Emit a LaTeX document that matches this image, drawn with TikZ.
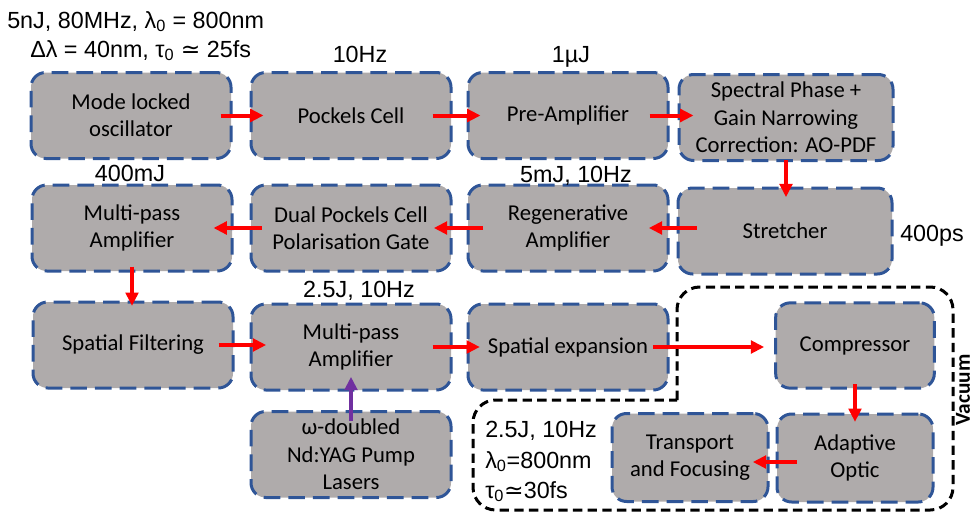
\documentclass[tikz,border=0pt]{standalone}
\usepackage{fontspec}
\setmainfont{Carlito}
\newfontfamily\arialfont{Liberation Sans}
\newfontfamily\symfont{DejaVu Sans}
\usetikzlibrary{arrows.meta}

\definecolor{boxgrey}{HTML}{AFABAB}
\definecolor{boxblue}{HTML}{2F5597}
\definecolor{pumppurple}{HTML}{7030A0}

\begin{document}
\begin{tikzpicture}[x=0.75pt,y=-0.75pt,
    stage/.style={draw=boxblue, fill=boxgrey, line width=2.25pt,
        dash pattern=on 12.5pt off 6pt, rounded corners=11pt,
        minimum width=150pt, minimum height=64.5pt, align=center,
        inner sep=2pt, font=\fontsize{17}{20.5}\selectfont},
    widestage/.style={stage, minimum width=160.5pt},
    smallstage/.style={stage, minimum width=117pt, minimum height=66pt},
    note/.style={font=\arialfont\fontsize{17.5}{20}\selectfont, inner sep=0pt},
    beam/.style={draw=red, line width=3pt, -{Triangle[length=10pt,width=9.5pt]}},
    pumpbeam/.style={beam, draw=pumppurple},
    vacuumline/.style={draw=black, line width=2.25pt, dash pattern=on 7pt off 4pt}]

    \useasboundingbox (0,0) rectangle (976,514);

    % Zona vuoto
    \draw[vacuumline, rounded corners=17pt]
        (677,400) -- (677,287) -- (953,287) -- (953,510)
        -- (473,510) -- (473,400) -- (677,400);

    % Blocchi, prima riga
    \node[stage] (mode) at (131,115.5) {Mode locked\\oscillator};
    \node[stage] (pockels) at (351,115.5) {Pockels Cell};
    \node[stage] (preamp) at (568,115.5) {Pre-Amplifier};
    \node[widestage] (spectral) at (786,117.5) {Spectral Phase +\\Gain Narrowing\\Correction: AO-PDF};

    % Seconda riga
    \node[stage] (mpassA) at (132,228) {Multi-pass\\Amplifier};
    \node[stage] (dual) at (351,228) {Dual Pockels Cell\\Polarisation Gate};
    \node[stage] (regen) at (568,228) {Regenerative\\Amplifier};
    \node[widestage] (stretcher) at (785,231) {Stretcher};

    % Terza riga
    \node[stage] (filter) at (133,345) {Spatial Filtering};
    \node[stage] (mpassB) at (351,347) {Multi-pass\\Amplifier};
    \node[stage] (expand) at (568,347) {Spatial expansion};
    \node[smallstage, minimum width=119pt, minimum height=64pt] (compressor) at (855,345.5) {Compressor};

    % Quarta riga
    \node[stage] (pumplaser) at (351,454.5) {ω-doubled\\Nd:YAG Pump\\Lasers};
    \node[smallstage] (transport) at (690,457.5) {Transport\\and Focusing};
    \node[smallstage] (adaptive) at (855,458) {Adaptive\\Optic};

    % Frecce
    \draw[beam, shorten <=-9pt, shorten >=-10.5pt] (mode.east) -- (mode.east -| pockels.west);
    \draw[beam, shorten <=-15pt, shorten >=-10.5pt] (pockels.east) -- (pockels.east -| preamp.west);
    \draw[beam, shorten <=-15pt, shorten >=-12pt] (preamp.east) -- (preamp.east -| spectral.west);
    \draw[beam, shorten <=-1.5pt, shorten >=-8pt] (spectral.south) -- (spectral.south |- stretcher.north);
    \draw[beam, shorten <=-15pt, shorten >=-15.5pt] (stretcher.west |- regen.east) -- (regen.east);
    \draw[beam, shorten <=-12.5pt, shorten >=-14pt] (regen.west) -- (dual.east);
    \draw[beam, shorten <=-9pt, shorten >=-15pt] (dual.west) -- (mpassA.east);
    \draw[beam, shorten <=-4.5pt, shorten >=-4pt] (mpassA.south) -- (mpassA.south |- filter.north);
    \draw[beam, shorten <=-12pt, shorten >=-12.5pt] (filter.east) -- (filter.east -| mpassB.west);
    \draw[beam, shorten <=-15pt, shorten >=-10pt] (mpassB.east) -- (expand.west);
    \draw[beam, shorten <=-12.5pt, shorten >=7.5pt] (expand.east) -- (expand.east -| compressor.west);
    \draw[beam, shorten <=-4pt, shorten >=-7pt] (compressor.south) -- (compressor.south |- adaptive.north);
    \draw[beam, shorten <=-16pt, shorten >=-12.5pt] ([yshift=-3pt]adaptive.west) -- ([yshift=-3pt]adaptive.west -| transport.east);
    \draw[pumpbeam, shorten <=-8pt, shorten >=-11pt] (pumplaser.north) -- (mpassB.south);

    % Etichette
    \node[note, anchor=base west] (seedA) at (7,28) {5nJ, 80MHz, λ\textsubscript{0} = 800nm};
    \node[note, anchor=base west] (seedB) at (30,57) {Δλ = 40nm, τ\textsubscript{0} {\symfont ≃} 25fs};
    \node[note, anchor=base] (repA) at (360,62) {10Hz};
    \node[note, anchor=base] (energyA) at (571,62) {1µJ};
    \node[note, anchor=base] (energyB) at (130,181) {400mJ};
    \node[note, anchor=base] (energyC) at (576,182) {5mJ, 10Hz};
    \node[note, anchor=base west] (chirp) at (900,241) {400ps};
    \node[note, anchor=base] (energyD) at (359,297) {2.5J, 10Hz};
    \node[note, anchor=base west] (outA) at (485,437) {2.5J, 10Hz};
    \node[note, anchor=base west] (outB) at (485,468) {λ\textsubscript{0}=800nm};
    \node[note, anchor=base west] (outC) at (485,498) {τ\textsubscript{0}{\symfont ≃}30fs};
    \node[rotate=90, font=\bfseries\fontsize{16}{20}\selectfont, inner sep=0pt] (vaclabel) at (963,390) {Vacuum};

\end{tikzpicture}
\end{document}
